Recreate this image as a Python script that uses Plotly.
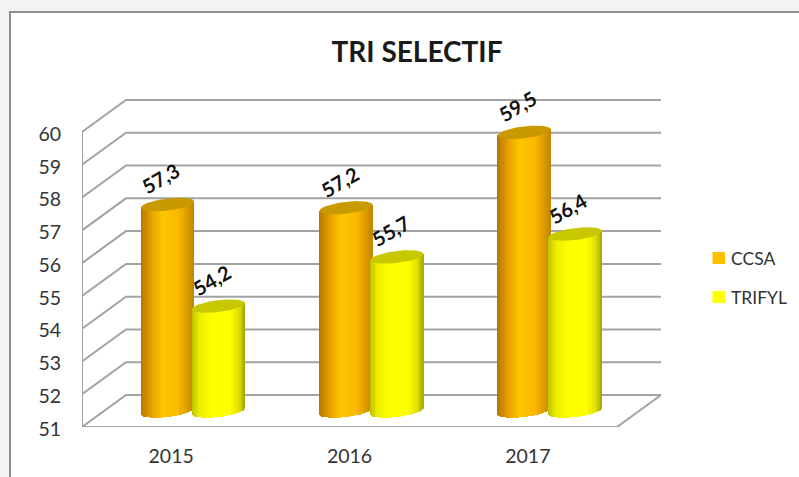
import numpy as np
import plotly.graph_objects as go

# ---- data ----
categories = ["2015", "2016", "2017"]
ccsa = [57.3, 57.2, 59.5]
trifyl = [54.2, 55.7, 56.4]
y_ticks = [51, 52, 53, 54, 55, 56, 57, 58, 59, 60]
series_names = ["CCSA", "TRIFYL"]

# ---- geometry (pixels -> axis units) ----
W, H = 799, 477
X_LEFT, X_BACK_RIGHT, Y_TOP, Y_FLOOR = 82, 661, 99, 427
PX_X = 178.33   # px per category
PX_Y = 32.78    # px per value unit
x_max = (X_BACK_RIGHT - X_LEFT) / PX_X
y_max = 51 + (Y_FLOOR - Y_TOP) / PX_Y
DX, DY = 44 / PX_X, 32 / PX_Y          # wall depth
SHIFT_X, SHIFT_Y = 22 / PX_X, 16 / PX_Y  # cylinders stand mid depth
BAR_W = 53 / PX_X
BAR_OFF = 25.5 / PX_X
E_H, E_T = 6 / PX_Y, 3 / PX_Y          # ellipse half-height and tilt

GRID = "#a3a3a3"
N = 40
us = (np.arange(N) + 0.5) / N * 2 - 1


def mix(stops, u):
    t = (u + 1) / 2
    xs = [s[0] for s in stops]
    rgb = [np.interp(t, xs, [s[1][i] for s in stops]) for i in range(3)]
    return "rgb(%d,%d,%d)" % tuple(rgb)


ORANGE = [(0, (178, 118, 0)), (0.2, (228, 160, 0)), (0.42, (255, 198, 0)),
          (0.7, (252, 186, 0)), (0.88, (222, 156, 0)), (1, (190, 134, 0))]
YELLOW = [(0, (190, 190, 0)), (0.15, (238, 238, 0)), (0.4, (255, 255, 0)),
          (0.72, (255, 255, 0)), (0.9, (222, 222, 0)), (1, (165, 165, 0))]
CAPS = ["#c99a00", "#c8c800"]
STOPS = [ORANGE, YELLOW]
SWATCH = ["#ffc000", "#ffff00"]
LEGEND_Y = [258, 297]

fig = go.Figure()

# walls and floor
gx, gy = [], []
for v in y_ticks:
    gx += [0, DX, x_max, None]
    gy += [v, v + DY, v + DY, None]
gx += [0, 0, None, 0, 3, x_max, None]
gy += [y_ticks[0], y_ticks[-1], None, y_ticks[0], y_ticks[0], y_ticks[0] + DY, None]
fig.add_trace(go.Scatter(x=gx, y=gy, mode="lines", line=dict(color=GRID, width=2),
                         hoverinfo="skip", showlegend=False, cliponaxis=False))

# cylinders
for s, values in enumerate([ccsa, trifyl]):
    off = -BAR_OFF if s == 0 else BAR_OFF
    xs, bases, hs, cols, ws = [], [], [], [], []
    for i, v in enumerate(values):
        c = i + 0.5 + off
        for u in us:
            low = y_ticks[0] + E_T * u - E_H * np.sqrt(1 - u * u)
            top = v + E_T * u
            xs.append(c + u * BAR_W / 2)
            bases.append(low)
            hs.append(top - low)
            cols.append(mix(STOPS[s], u))
            ws.append(BAR_W / N * 1.25)
    fig.add_trace(go.Bar(x=xs, y=hs, base=bases, width=ws, xaxis="x2", yaxis="y2",
                         name=series_names[s],
                         marker=dict(color=cols, line=dict(width=0)),
                         hoverinfo="skip", showlegend=False))
    th = np.linspace(0, 2 * np.pi, 73)
    cx, cy = [], []
    for i, v in enumerate(values):
        cx += list(i + 0.5 + off + np.cos(th) * BAR_W / 2) + [None]
        cy += list(v + E_T * np.cos(th) + E_H * np.sin(th)) + [None]
    fig.add_trace(go.Scatter(x=cx, y=cy, xaxis="x2", yaxis="y2", mode="lines",
                             fill="toself", fillcolor=CAPS[s], line=dict(width=0, color=CAPS[s]),
                             hoverinfo="skip", showlegend=False))

annotations = []
for s, values in enumerate([ccsa, trifyl]):
    off = -BAR_OFF if s == 0 else BAR_OFF
    for i, v in enumerate(values):
        annotations.append(dict(x=i + 0.5 + off, y=v, xref="x2", yref="y2",
                                text="<b>" + f"{v:.1f}".replace(".", ",") + "</b>", showarrow=False,
                                textangle=-30, xshift=-7, yshift=26,
                                font=dict(family="Lato", size=20, color="#111111")))

shapes = [dict(type="rect", xref="paper", yref="paper", x0=10 / W, x1=1.02, y0=-0.02, y1=1 - 12 / H,
               fillcolor="#ffffff", line=dict(color="#8e8e8e", width=2), layer="below")]
for name, col, ly in zip(series_names, SWATCH, LEGEND_Y):
    shapes.append(dict(type="rect", xref="paper", yref="paper", x0=712.5 / W, x1=725 / W,
                       y0=1 - (ly + 6) / H, y1=1 - (ly - 6) / H, fillcolor=col, line=dict(width=0)))
    annotations.append(dict(x=729 / W, y=1 - ly / H, xref="paper", yref="paper", text=name,
                            xanchor="left", yanchor="middle", showarrow=False,
                            font=dict(family="Lato", size=17.5, color="#333333")))

fig.update_layout(
    width=W, height=H, margin=dict(l=0, r=0, t=0, b=0, autoexpand=False),
    paper_bgcolor="#f3f3f3", plot_bgcolor="rgba(0,0,0,0)",
    barmode="overlay", bargap=0, showlegend=False,
    font=dict(family="Lato", size=19.5, color="#333333"),
    title=dict(text="<b>TRI SELECTIF</b>", x=417 / W, xanchor="center", y=1 - 52 / H, yanchor="middle",
               font=dict(family="Lato", size=28, color="#1a1a1a")),
    xaxis=dict(domain=[X_LEFT / W, X_BACK_RIGHT / W], range=[0, x_max],
               tickvals=[0.5, 1.5, 2.5], ticktext=categories, showgrid=False, zeroline=False,
               showline=False, ticks="outside", ticklen=12, tickcolor="rgba(0,0,0,0)"),
    yaxis=dict(domain=[1 - Y_FLOOR / H, 1 - Y_TOP / H], range=[51, y_max],
               tickvals=y_ticks, showgrid=False, zeroline=False, showline=False,
               ticks="outside", ticklen=16, tickcolor="rgba(0,0,0,0)", ticklabelshift=2),
    xaxis2=dict(domain=[X_LEFT / W, X_BACK_RIGHT / W], range=[-SHIFT_X, x_max - SHIFT_X],
                overlaying="x", anchor="y2", visible=False),
    yaxis2=dict(domain=[1 - Y_FLOOR / H, 1 - Y_TOP / H], range=[51 - SHIFT_Y, y_max - SHIFT_Y],
                overlaying="y", anchor="x2", visible=False),
    annotations=annotations,
    shapes=shapes,
)

fig.write_html("out.html", config=dict(displayModeBar=False),
               post_script="document.body.style.margin='0';")
